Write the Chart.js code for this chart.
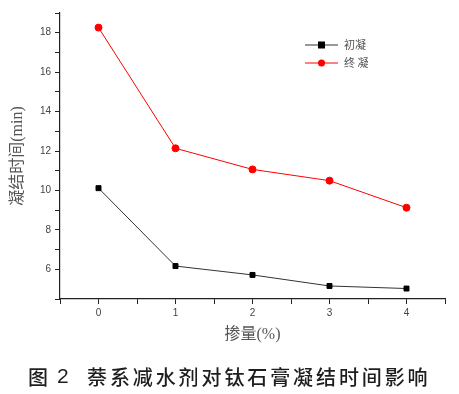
<!DOCTYPE html>
<html>
<head>
<meta charset="utf-8">
<script src="https://cdn.jsdelivr.net/npm/chart.js@4.4.1/dist/chart.umd.min.js"></script>
<style>
  body { margin: 0; background: #fff; }
  canvas { display: block; }
</style>
</head>
<body>
<canvas id="setChart" width="459" height="394"></canvas>
<script>
const dosage = [0, 1, 2, 3, 4];
const initialSet = [10.12, 6.17, 5.72, 5.16, 5.03];
const finalSet = [18.26, 12.14, 11.07, 10.5, 9.13];
const seriesNames = ['初凝', '终 凝'];
const caption = ['图', '2', '萘系减水剂对钛石膏凝结时间影响'];

const CJK = '"Noto Sans CJK SC", "Noto Sans", sans-serif';
const SERIF_CJK = '"Liberation Serif", "Noto Sans CJK SC", serif';

// legend drawn like Origin: short line, marker in the middle, label
const legendPlugin = {
  id: 'originLegend',
  afterDraw(chart) {
    const ctx = chart.ctx;
    const x0 = 305, y0 = 45, rowH = 18;
    chart.data.datasets.forEach((ds, i) => {
      const y = y0 + i * rowH;
      ctx.save();
      ctx.strokeStyle = ds.borderColor;
      ctx.lineWidth = 1;
      ctx.beginPath();
      ctx.moveTo(x0, y);
      ctx.lineTo(x0 + 33, y);
      ctx.stroke();
      ctx.fillStyle = ds.pointBackgroundColor;
      if (ds.pointStyle === 'rect') {
        ctx.fillRect(x0 + 13, y - 3.5, 7, 7);
      } else {
        ctx.beginPath();
        ctx.arc(x0 + 16.5, y, 3.5, 0, Math.PI * 2);
        ctx.fill();
      }
      ctx.fillStyle = '#555';
      ctx.font = '11px ' + CJK;
      ctx.textBaseline = 'middle';
      ctx.fillText(ds.label, x0 + 39, y);
      ctx.restore();
    });
  },
};

const captionPlugin = {
  id: 'caption',
  afterDraw(chart) {
    const ctx = chart.ctx;
    ctx.save();
    ctx.fillStyle = '#1e1e1e';
    ctx.textBaseline = 'middle';
    ctx.font = '500 20px ' + CJK;
    ctx.fillText(caption[0], 28, 377);
    ctx.font = '21px "Liberation Sans", Arial, sans-serif';
    ctx.fillText(caption[1], 57, 377);
    ctx.font = '500 20px ' + CJK;
    ctx.letterSpacing = '2.9px';
    ctx.fillText(caption[2], 87, 377);
    ctx.restore();
  },
};

function buildSetChart() {
  const ctx = document.getElementById('setChart');
  new Chart(ctx, {
    type: 'line',
    data: {
      datasets: [{
        label: seriesNames[0],
        data: dosage.map((x, i) => ({ x, y: initialSet[i] })),
        borderColor: '#333',
        borderWidth: 1,
        pointStyle: 'rect',
        pointRadius: 3.5,
        pointBackgroundColor: '#000',
        pointBorderColor: '#000',
        tension: 0,
      }, {
        label: seriesNames[1],
        data: dosage.map((x, i) => ({ x, y: finalSet[i] })),
        borderColor: '#ff0000',
        borderWidth: 1,
        pointStyle: 'circle',
        pointRadius: 3.5,
        pointBackgroundColor: '#ff0000',
        pointBorderColor: '#ff0000',
        tension: 0,
      }],
    },
    options: {
      responsive: false,
      animation: false,
      layout: { padding: { left: 0, top: 13, right: 14, bottom: 50 } },
      plugins: { legend: { display: false }, tooltip: { enabled: false } },
      scales: {
        x: {
          type: 'linear',
          min: -0.5,
          max: 4.5,
          afterFit: (scale) => { scale.height = 45; },
          border: { color: '#222', width: 1.2 },
          grid: { drawOnChartArea: false, drawTicks: true, tickLength: 5, color: '#222' },
          ticks: {
            stepSize: 0.5,
            padding: 3,
            color: '#444',
            font: { size: 10, family: '"Liberation Sans", Arial, sans-serif' },
            callback: (v) => (Number.isInteger(v) ? v : ''),
          },
          title: {
            display: true,
            text: '掺量(%)',
            color: '#555',
            font: { size: 16, family: SERIF_CJK },
            padding: { top: 2, bottom: 0 },
          },
        },
        y: {
          min: 4.5,
          max: 19,
          afterFit: (scale) => { scale.width = 60; },
          border: { color: '#222', width: 1.2 },
          grid: { drawOnChartArea: false, drawTicks: true, tickLength: 5, color: '#222' },
          ticks: {
            stepSize: 1,
            padding: 4,
            color: '#444',
            font: { size: 10, family: '"Liberation Sans", Arial, sans-serif' },
            callback: (v) => (Number.isInteger(v) && v % 2 === 0 ? v : ''),
          },
          title: {
            display: true,
            text: '凝结时间(min)',
            color: '#555',
            font: { size: 16, family: SERIF_CJK },
            padding: { top: 8, bottom: 0 },
          },
        },
      },
    },
    plugins: [legendPlugin, captionPlugin],
  });
}

document.addEventListener('DOMContentLoaded', buildSetChart);
</script>
</body>
</html>
